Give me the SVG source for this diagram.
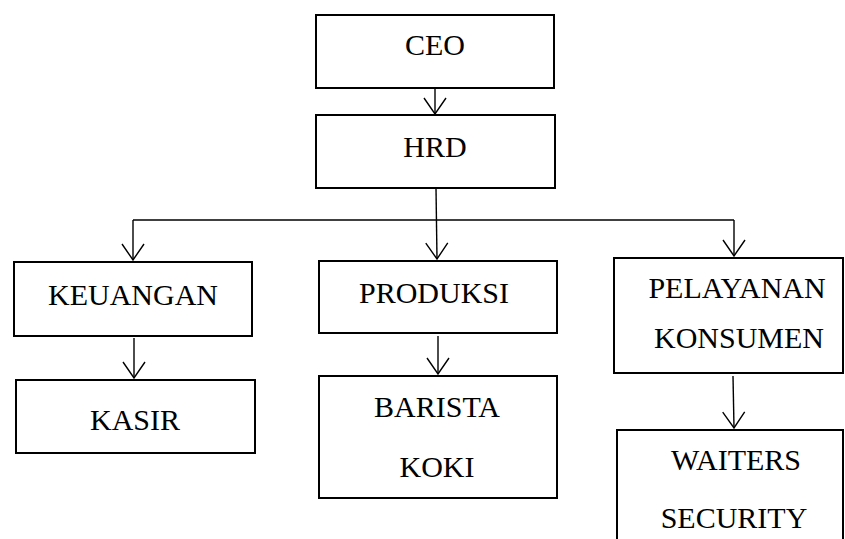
<svg xmlns="http://www.w3.org/2000/svg" width="845" height="539" viewBox="0 0 845 539">
<style>
.box{fill:#fff;stroke:#000;stroke-width:2}
.t{font-size:30px;fill:#000;text-anchor:middle}
.c{fill:none;stroke:#000;stroke-width:1.4}
</style>
<defs>
<marker id="ah" markerUnits="userSpaceOnUse" viewBox="0 0 18 24" refX="17" refY="12" markerWidth="18" markerHeight="24" orient="auto">
<path d="M1,1 L17,12 L1,23" fill="none" stroke="#000" stroke-width="1.4"/>
</marker>
</defs>
<rect width="845" height="539" fill="#fff"/>
<g id="connectors">
<line class="c" x1="435" y1="88" x2="435" y2="114" marker-end="url(#ah)"/>
<line class="c" x1="436" y1="188" x2="437" y2="259" marker-end="url(#ah)"/>
<line class="c" x1="133" y1="220" x2="734" y2="220"/>
<line class="c" x1="133" y1="220" x2="133" y2="260" marker-end="url(#ah)"/>
<line class="c" x1="734" y1="220" x2="734" y2="256" marker-end="url(#ah)"/>
<line class="c" x1="134" y1="338" x2="134" y2="378" marker-end="url(#ah)"/>
<line class="c" x1="438" y1="336" x2="438" y2="374" marker-end="url(#ah)"/>
<line class="c" x1="733" y1="376" x2="734" y2="428" marker-end="url(#ah)"/>
</g>
<g font-family="Liberation Serif, Times New Roman, serif">
<g id="ceo"><rect class="box" x="316" y="15" width="238" height="73"/><text class="t" x="435" y="55">CEO</text></g>
<g id="hrd"><rect class="box" x="316" y="115" width="239" height="73"/><text class="t" x="435" y="157">HRD</text></g>
<g id="keuangan"><rect class="box" x="14" y="262" width="238" height="74"/><text class="t" x="133" y="305">KEUANGAN</text></g>
<g id="kasir"><rect class="box" x="16" y="380" width="239" height="73"/><text class="t" x="135" y="430">KASIR</text></g>
<g id="produksi"><rect class="box" x="319" y="261" width="238" height="72"/><text class="t" x="434" y="303">PRODUKSI</text></g>
<g id="barista"><rect class="box" x="319" y="376" width="238" height="122"/><text class="t" x="437" y="417">BARISTA</text><text class="t" x="437" y="477">KOKI</text></g>
<g id="pelayanan"><rect class="box" x="614" y="258" width="229" height="115"/><text class="t" x="737" y="298">PELAYANAN</text><text class="t" x="739" y="348">KONSUMEN</text></g>
<g id="waiters"><rect class="box" x="617" y="430" width="226" height="130"/><text class="t" x="736" y="470">WAITERS</text><text class="t" x="734" y="528">SECURITY</text></g>
</g>
</svg>
